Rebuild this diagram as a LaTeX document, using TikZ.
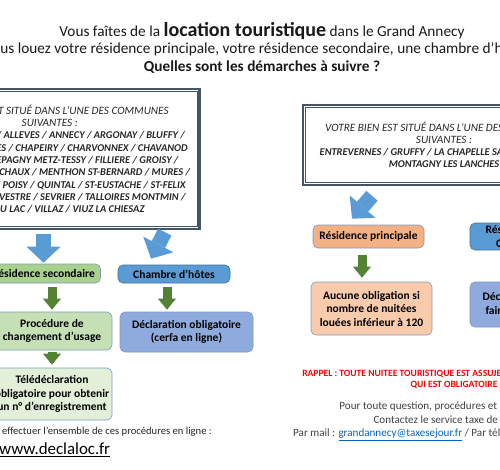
\documentclass[tikz,border=0pt]{standalone}
\usepackage{fontspec}
\setmainfont{Carlito}
\usetikzlibrary{arrows.meta,positioning,calc}
\definecolor{framegrey}{HTML}{44546A}
\definecolor{skyblue}{HTML}{5B9BD5}
\definecolor{skyedge}{HTML}{41719C}
\definecolor{paleblue}{HTML}{8FAADC}
\definecolor{leafgreen}{HTML}{548235}
\definecolor{midgreen}{HTML}{A9D18E}
\definecolor{softgreen}{HTML}{C5E0B4}
\definecolor{palegreen}{HTML}{E2F0D9}
\definecolor{peach}{HTML}{F4B183}
\definecolor{palepeach}{HTML}{F8CBAD}
\definecolor{boxedge}{HTML}{7F98C0}
\definecolor{linkblue}{HTML}{0563C1}
\definecolor{bodygrey}{HTML}{404040}
\newcommand{\zonehead}{\fontsize{11.2}{12.3}\selectfont}

\begin{document}
\begin{tikzpicture}[x=1pt,y=-1pt,
  zone/.style={draw=framegrey,line width=2.2pt,inner sep=0pt,align=center,text=black!85,
    font=\fontsize{10.4}{12.3}\selectfont\itshape},
  zoneinner/.style={draw=framegrey,line width=0.8pt},
  stepbox/.style={draw=boxedge,line width=0.6pt,rounded corners=5pt,inner sep=0pt,align=center,
    font=\fontsize{11.5}{13.5}\selectfont\bfseries},
  bluearrow/.style={skyblue,line width=15pt,-{Triangle[width=34pt,length=16pt,line width=0pt]}},
  greenarrow/.style={leafgreen,line width=9pt,-{Triangle[width=18pt,length=11pt,line width=0pt]}}]
  \useasboundingbox (0,0) rectangle (500,469);
  \clip (0,0) rectangle (500,469);

  % heading
  \node[font=\fontsize{15.3}{17.5}\selectfont,align=center,text=black!90] (title) at (262,47.5)
    {Vous faîtes de la {\fontsize{20}{20}\selectfont\bfseries location touristique} dans le Grand Annecy\\
     Vous louez votre résidence principale, votre résidence secondaire, une chambre d’hôtes ?\\
     \textbf{Quelles sont les démarches à suivre ?}};

  % the two lists of communes
  \node[zone,minimum width=299.5pt,minimum height=140pt] (leftzone) at (49.75,159) {%
    {\zonehead VOTRE BIEN EST SITUÉ DANS L’UNE DES COMMUNES}\\
    {\zonehead SUIVANTES :}\\
    \textbf{ALBY SUR CHERAN / ALLEVES / ANNECY /  ARGONAY / BLUFFY /}\\
    \textbf{CHAINAZ LES FRASSES / CHAPEIRY / CHARVONNEX / CHAVANOD}\\
    \textbf{CUSY / DUINGT / EPAGNY METZ-TESSY  / FILLIERE / GROISY /}\\
    \textbf{HERY SUR ALBY / LESCHAUX / MENTHON ST-BERNARD / MURES /}\\
    \textbf{NAVES PARMELAN / POISY / QUINTAL / ST-EUSTACHE /  ST-FELIX}\\
    \textbf{/ ST-JORIOZ / ST-SYLVESTRE / SEVRIER / TALLOIRES MONTMIN /}\\
    \textbf{VEYRIER DU LAC / VILLAZ / VIUZ LA CHIESAZ}};
  \draw[zoneinner] ([shift={(3.5pt,-3.5pt)}]leftzone.north west) rectangle ([shift={(-3.5pt,3.5pt)}]leftzone.south east);

  \node[zone,minimum width=282pt,minimum height=79.7pt] (rightzone) at (444,144.85) {%
    {\zonehead VOTRE BIEN EST SITUÉ DANS L’UNE DES COMMUNES}\\
    {\zonehead SUIVANTES :}\\
    \textbf{ENTREVERNES / GRUFFY  / LA CHAPELLE SAINT-MAURICE /}\\
    \textbf{MONTAGNY LES LANCHES}};
  \draw[zoneinner] ([shift={(3.5pt,-3.5pt)}]rightzone.north west) rectangle ([shift={(-3.5pt,3.5pt)}]rightzone.south east);

  % steps
  \node[stepbox,fill=midgreen,minimum width=114pt,minimum height=19pt] (resSec) at (43.5,273.5) {Résidence secondaire};
  \node[stepbox,fill=skyblue,draw=skyedge,minimum width=112pt,minimum height=18pt] (chambre) at (174,274) {Chambre d’hôtes};
  \node[stepbox,fill=softgreen,minimum width=120pt,minimum height=38pt] (usage) at (52,331) {Procédure de\\changement d’usage};
  \node[stepbox,fill=paleblue,minimum width=133pt,minimum height=40pt] (declaration) at (186.5,332) {Déclaration obligatoire\\(cerfa en ligne)};
  \node[stepbox,fill=palegreen,minimum width=120pt,minimum height=52pt] (teledecl) at (52,394) {Télédéclaration\\obligatoire pour obtenir\\un n° d’enregistrement};
  \node[stepbox,fill=peach,minimum width=111pt,minimum height=23pt] (resPrin) at (368.5,236.5) {Résidence principale};
  \node[stepbox,fill=palepeach,minimum width=121pt,minimum height=53pt] (aucune) at (371.5,308.5) {Aucune obligation si\\nombre de nuitées\\louées inférieur à 120};
  \node[stepbox,fill=skyblue,draw=skyedge,minimum width=134pt,minimum height=27pt] (resAutre) at (537,236.5) {Résidence secondaire\\Chambre d’hôtes};
  \node[stepbox,fill=paleblue,minimum width=134pt,minimum height=45pt] (declMairie) at (537,304.5) {Déclaration obligatoire\\faire en mairie (cerfa)};

  % block arrows
  \draw[bluearrow,shorten <=4pt,shorten >=1pt] (leftzone.south -| resSec.north) -- (resSec.north);
  \draw[bluearrow] ([shift={(115pt,-2pt)}]leftzone.south) -- ([shift={(-23pt,6pt)}]chambre.north);
  \draw[bluearrow] ([shift={(-72pt,-10pt)}]rightzone.south) -- ([shift={(-16.5pt,6pt)}]resPrin.north);
  \draw[greenarrow,shorten <=4pt,shorten >=2pt] (usage.north |- resSec.south) -- (usage.north);
  \draw[greenarrow,shorten <=2pt,shorten >=3pt] (teledecl.north |- usage.south) -- (teledecl.north);
  \draw[greenarrow,shorten <=4pt,shorten >=2pt] ($(chambre.south)+(-7pt,0)$) -- ($(chambre.south |- declaration.north)+(-7pt,0)$);
  \draw[greenarrow,shorten <=7pt,shorten >=4pt] ($(resPrin.south)+(-6.5pt,0)$) -- ($(resPrin.south |- aucune.north)+(-6.5pt,0)$);

  % footer texts
  \node[font=\fontsize{10.6}{12}\selectfont,anchor=east,inner sep=0pt,text=black!85] (online) at (212,432)
    {Pour effectuer l’ensemble de ces procédures en ligne :};
  \node[font=\fontsize{16.9}{18}\selectfont,anchor=west,inner sep=0pt] (declaloc) at (-1,450) {\underline{www.declaloc.fr}};
  \node[font=\fontsize{9.6}{11}\selectfont\bfseries,text=red,align=center] (rappel) at (454,379.5)
    {RAPPEL : TOUTE NUITEE TOURISTIQUE EST ASSUJETTIE A LA TAXE DE SEJOUR\\QUI EST OBLIGATOIRE};
  \node[font=\fontsize{11.1}{14}\selectfont,text=bodygrey,align=center] (contact) at (451,414)
    {Pour toute question, procédures et informations :\\Contactez le service taxe de séjour};
  \node[font=\fontsize{11.1}{14}\selectfont,text=bodygrey,anchor=west,inner sep=0pt] (mail) at (293,435)
    {Par mail : \textcolor{linkblue}{\underline{grandannecy@taxesejour.fr}} / Par téléphone};
\end{tikzpicture}
\end{document}
